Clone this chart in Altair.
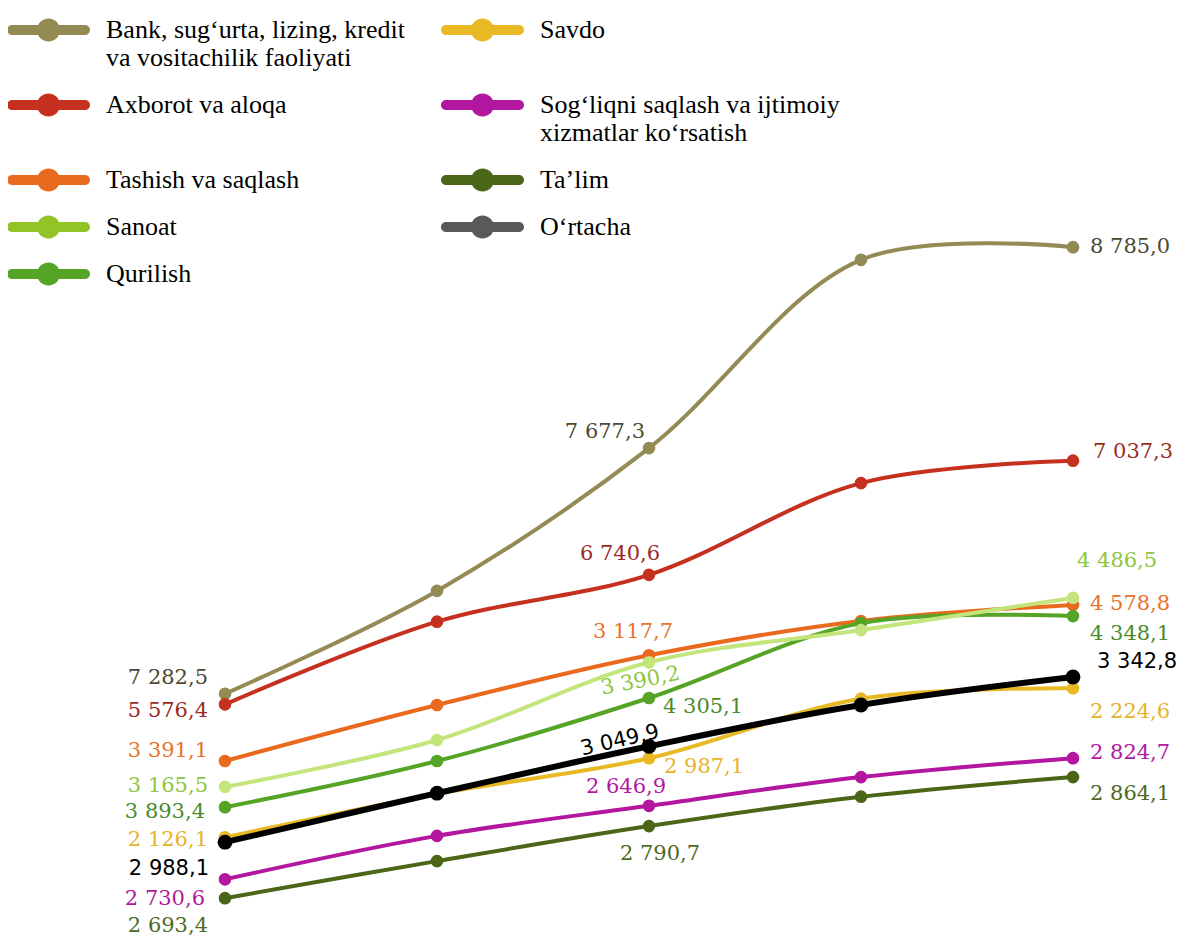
import altair as alt
import pandas as pd

# ---------------- data ----------------
periods = [1, 2, 3, 4, 5]

series = [
    "Bank, sug‘urta, lizing, kredit va vositachilik faoliyati",
    "Axborot va aloqa",
    "Tashish va saqlash",
    "Qurilish",
    "Sanoat",
    "Savdo",
    "Sog‘liqni saqlash va ijtimoiy xizmatlar ko‘rsatish",
    "Ta’lim",
    "O‘rtacha",
]

# plotted position of each series (relative index units)
bank = [34.6, 49.3, 69.7, 96.6, 98.4]
axborot = [33.1, 44.9, 51.6, 64.7, 67.9]
tashish = [25.0, 33.0, 40.1, 45.0, 47.3]
qurilish = [18.4, 25.0, 34.0, 44.7, 45.7]
sanoat = [21.3, 28.0, 39.1, 43.7, 48.3]
savdo = [14.1, 20.3, 25.4, 33.9, 35.4]
sogliq = [8.1, 14.3, 18.6, 22.7, 25.4]
talim = [5.4, 10.7, 15.7, 19.9, 22.7]
ortacha = [13.4, 20.4, 27.1, 33.0, 37.0]
values = [bank, axborot, tashish, qurilish, sanoat, savdo, sogliq, talim, ortacha]

# printed data labels (first, middle and last point)
first_labels = ["7 282,5", "5 576,4", "3 391,1", "3 893,4", "3 165,5", "2 126,1", "2 730,6", "2 693,4", "2 988,1"]
mid_labels = ["7 677,3", "6 740,6", "3 117,7", "4 305,1", "3 390,2", "2 987,1", "2 646,9", "2 790,7", "3 049,9"]
last_labels = ["8 785,0", "7 037,3", "4 578,8", "4 348,1", "4 486,5", "2 224,6", "2 824,7", "2 864,1", "3 342,8"]
label_periods = [1, 3, 5]

# legend order (two columns, filled column by column)
legend_order = [
    series[0], series[1], series[2], series[4], series[3],
    series[5], series[6], series[7], series[8],
]

# ---------------- styles ----------------
legend_colors = {
    series[0]: "#948a54",
    series[1]: "#c6301e",
    series[2]: "#e96a1e",
    series[3]: "#55a425",
    series[4]: "#93c425",
    series[5]: "#e8b925",
    series[6]: "#b3179f",
    series[7]: "#4b6616",
    series[8]: "#595959",
}
line_colors = ["#948a54", "#c6301e", "#e96a1e", "#55a425", "#c3e57c",
               "#e8b925", "#b3179f", "#4b6616", "#000000"]
label_colors = ["#4d4a33", "#9c2b1f", "#e8722c", "#4a8b2c", "#8dc63f",
                "#e5b429", "#b3189f", "#4d6b1f", "#000000"]

# (align, dx, dy, angle) per series for first / middle / last label
first_style = [("right", -17, -16, 0), ("right", -17, 7, 0), ("right", -17, -10, 0),
               ("right", -20, 5, 0), ("right", -17, -1, 0), ("right", -17, 3, 0),
               ("right", -20, 20, 0), ("right", -17, 28, 0), ("right", -16, 27, 0)]
mid_style = [("right", -4, -16, 0), ("center", -29, -21, 0), ("center", -16, -23, 0),
             ("left", 14, 9, 0), ("center", -12, 17, 349), ("left", 15, 9, 0),
             ("center", -23, -19, 0), ("center", 11, 28, 0), ("center", -27, -12, 347)]
last_style = [("left", 17, 0, 0), ("left", 20, -9, 0), ("left", 17, -1, 0),
              ("left", 17, 18, 0), ("left", 4, -37, 0), ("left", 17, 24, 0),
              ("left", 17, -5, 0), ("left", 17, 17, 0), ("left", 24, -15, 0)]

line_breaks = {
    series[0]: ["Bank, sug‘urta, lizing, kredit", "va vositachilik faoliyati"],
    series[5]: ["Savdo", " "],
    series[6]: ["Sog‘liqni saqlash va ijtimoiy", "xizmatlar ko‘rsatish"],
}

# ---------------- tables ----------------
rows = []
for i, (s, vals) in enumerate(zip(series, values)):
    for p, v in zip(periods, vals):
        rows.append({"sid": i, "series": s, "period": p, "value": v})
df = pd.DataFrame(rows)

lrows = []
for i, (s, vals) in enumerate(zip(series, values)):
    for p, lbls in zip(label_periods, [first_labels, mid_labels, last_labels]):
        lrows.append({"sid": i, "series": s, "period": p,
                      "value": vals[periods.index(p)], "label": lbls[i]})
ldf = pd.DataFrame(lrows)

# ---------------- encodings ----------------
x_enc = alt.X("period:O", scale=alt.Scale(type="point", padding=0), axis=None)
y_enc = alt.Y("value:Q", scale=alt.Scale(domain=[0, 100], nice=False, zero=False), axis=None)

avg_test = "datum.series === '" + series[8] + "'"

label_expr = "".join(
    "datum.label === '" + k + "' ? ['" + a + "', '" + b + "'] : "
    for k, (a, b) in line_breaks.items()
) + "datum.label"

# legend symbol: thick rounded line with a dot (unit = 10 px at symbolSize 400)
sym_path = ("M-0.5,0.8 L6.8,0.8 A0.5,0.5 0 0,1 6.8,1.8 L-0.5,1.8 A0.5,0.5 0 0,1 -0.5,0.8 Z "
            "M2.0,1.3 A1.15,1.15 0 1,1 4.3,1.3 A1.15,1.15 0 1,1 2.0,1.3 Z")

legend = alt.Legend(
    orient="none", legendX=-221, legendY=-232, title=None,
    columns=2, columnPadding=33, rowPadding=8, padding=0,
    symbolType=sym_path, symbolSize=400, symbolStrokeWidth=0, symbolOpacity=1,
    labelFont="Liberation Serif", labelFontSize=26, labelColor="#000000",
    labelLimit=600, labelOffset=76, labelBaseline="top", labelExpr=label_expr,
)

lines = alt.Chart(df).mark_line(interpolate="catmull-rom").encode(
    x=x_enc, y=y_enc,
    stroke=alt.Stroke("series:N", scale=alt.Scale(domain=series, range=line_colors), legend=None),
    strokeWidth=alt.condition(avg_test, alt.value(6), alt.value(4)),
)

# dots on the lines (drawn in line colours)
points = alt.Chart(df).mark_point(filled=True, opacity=1, strokeWidth=0).encode(
    x=x_enc, y=y_enc,
    fill=alt.Fill("series:N", scale=alt.Scale(domain=series, range=line_colors), legend=None),
    size=alt.condition(avg_test, alt.value(220), alt.value(160)),
)

# legend-only layer (colour scale in legend colours), invisible marks
legend_layer = alt.Chart(df).mark_point(filled=True, opacity=0).encode(
    x=x_enc, y=y_enc,
    color=alt.Color("series:N", scale=alt.Scale(domain=legend_order,
                    range=[legend_colors[s] for s in legend_order]), legend=legend),
)

text_layers = []
for styles, p in zip([first_style, mid_style, last_style], label_periods):
    for i, (align, dx, dy, angle) in enumerate(styles):
        font = "DejaVu Sans" if i == 8 else "DejaVu Serif"
        kw = dict(align=align, baseline="middle", dx=dx, dy=dy, font=font, fontSize=21)
        if angle:
            kw["angle"] = angle
        t = alt.Chart(ldf).transform_filter(
            f"datum.sid === {i} && datum.period === {p}"
        ).mark_text(**kw).encode(
            x=x_enc, y=y_enc, text="label:N",
            fill=alt.Fill("series:N", scale=alt.Scale(domain=series, range=label_colors), legend=None),
        )
        text_layers.append(t)

chart = alt.layer(legend_layer, lines, points, *text_layers).properties(
    width=848, height=700,
    padding={"left": 217, "top": 228, "right": 104, "bottom": 0},
    autosize=alt.AutoSizeParams(type="none"),
).resolve_scale(color="independent", fill="independent", stroke="independent").configure_view(stroke=None)

chart.save("out.html", embed_options={"renderer": "svg", "actions": False})
